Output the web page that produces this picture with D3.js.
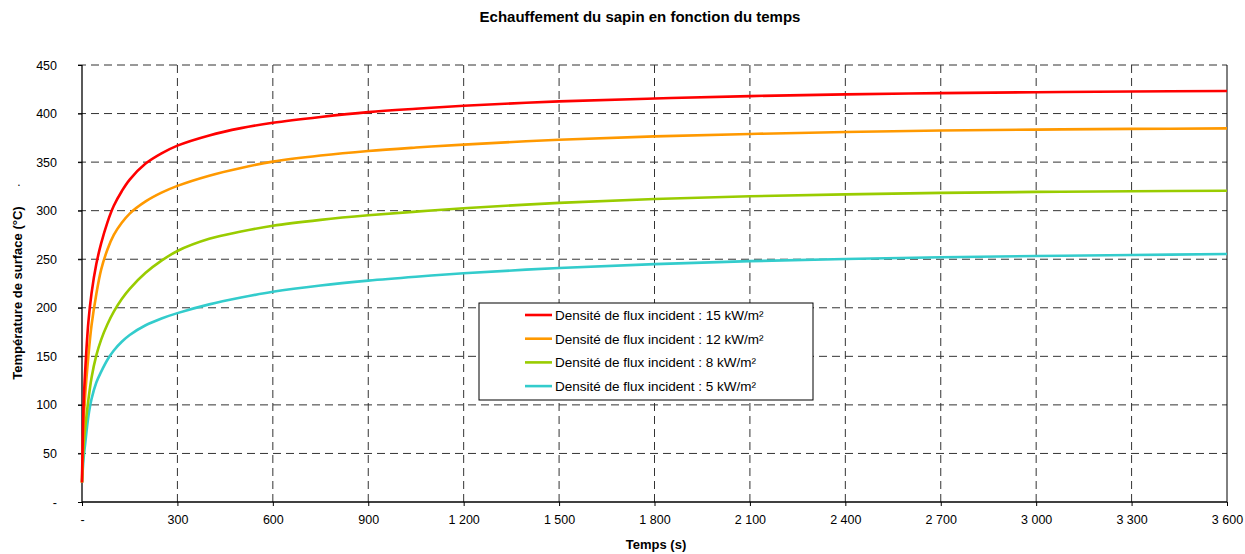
<!DOCTYPE html>
<html><head><meta charset="utf-8">
<script src="https://cdn.jsdelivr.net/npm/d3@7/dist/d3.min.js"></script>
<style>body{margin:0;background:#fff}svg{display:block}text{font-family:"Liberation Sans",Arial,sans-serif;fill:#000}</style>
</head><body><svg id="c" width="1245" height="554"></svg>
<script>
const times    = [0,5,10,20,30,45,60,80,100,125,150,200,250,300,400,500,600,750,900,1050,1200,1500,1800,2100,2400,2700,3000,3300,3600];
const red15    = [20,100,135,185,215,245,266,288,305,320,332,348.5,359,367,377.5,385,390.5,396.5,401.5,405,408,412.5,415.5,418,419.8,421,422,422.7,423.2];
const orange12 = [20,80,110,150,182,214,239,260,275,287.5,297,309.5,318.5,325.5,336,344,350.5,356.8,361.5,365,368,373,376.5,379,381,382.5,383.5,384.2,384.7];
const green8   = [20,58,76,105,128,151,167,183,196,209,219.5,236,248.5,258.5,271,278.5,284.5,290.5,295.2,299,302.5,308,312,314.8,316.8,318.3,319.3,320,320.5];
const cyan5    = [20,45,60,88,106,123,134,146.5,156,165,172,182,189,194.5,203.5,210.5,216.5,223,228,232,235.5,241,245,248,250.3,252,253.3,254.4,255.3];
const seriesNames = ["Densité de flux incident : 15 kW/m²","Densité de flux incident : 12 kW/m²","Densité de flux incident : 8 kW/m²","Densité de flux incident : 5 kW/m²"];
const seriesColors = ["#ff0000","#ff9900","#99cc00","#33cccc"];
const xTicks = [0,300,600,900,1200,1500,1800,2100,2400,2700,3000,3300,3600];
const xTickLabels = ["-","300","600","900","1 200","1 500","1 800","2 100","2 400","2 700","3 000","3 300","3 600"];
const yTicks = [0,50,100,150,200,250,300,350,400,450];
const yTickLabels = ["-","50","100","150","200","250","300","350","400","450"];

const svg = d3.select("#c");
const L=82,R=1227,T=65,B=502;
const x = d3.scaleLinear().domain([0,3600]).range([L,R]);
const y = d3.scaleLinear().domain([0,450]).range([B,T]);

// grid
const g = svg.append("g");
g.selectAll(".hg").data(yTicks.slice(1)).enter().append("line")
 .attr("x1",L-4).attr("x2",R).attr("y1",d=>y(d)).attr("y2",d=>y(d))
 .attr("stroke","#333").attr("stroke-width",1).attr("stroke-dasharray","8,5");
g.selectAll(".vg").data(xTicks.slice(1,-1)).enter().append("line")
 .attr("x1",d=>x(d)).attr("x2",d=>x(d)).attr("y1",T).attr("y2",B+4)
 .attr("stroke","#333").attr("stroke-width",1).attr("stroke-dasharray","8,5");
svg.append("line").attr("x1",R).attr("x2",R).attr("y1",T).attr("y2",B).attr("stroke","#000");

// axes
const xAxis = d3.axisBottom(x).tickValues(xTicks).tickFormat((d,i)=>xTickLabels[i]).tickSize(4);
const yAxis = d3.axisLeft(y).tickValues(yTicks).tickFormat((d,i)=>yTickLabels[i]).tickSize(4);
const xa = svg.append("g").attr("transform",`translate(0,${B})`).call(xAxis);
const ya = svg.append("g").attr("transform",`translate(${L},0)`).call(yAxis);
[xa,ya].forEach(a=>{a.select(".domain").attr("stroke","#000").attr("stroke-width",1.3);
 a.selectAll("text").style("font-family","'Liberation Sans',Arial,sans-serif").style("font-size","12.5px").attr("fill","#000");});
ya.select(".domain").attr("d",`M0,${T}V${B}`);
xa.select(".domain").attr("d",`M${L},0H${R}`);
xa.selectAll(".tick text").attr("y",13);
ya.selectAll(".tick text").attr("x",-25);

// lines
const series=[red15,orange12,green8,cyan5];
const line = d3.line().x((d,i)=>x(times[i])).y(d=>y(d)).curve(d3.curveCatmullRom.alpha(0.5));
[3,2,1,0].forEach(i=>{
 svg.append("path").datum(series[i]).attr("d",line).attr("fill","none").attr("stroke",seriesColors[i]).attr("stroke-width",2.6);
});

// legend
const lg = svg.append("g");
lg.append("rect").attr("x",479).attr("y",303).attr("width",334).attr("height",97).attr("fill","#fff").attr("stroke","#000").attr("stroke-width",1);
seriesNames.forEach((n,i)=>{
 const yy=315+i*23.7;
 lg.append("line").attr("x1",525).attr("x2",552).attr("y1",yy).attr("y2",yy).attr("stroke",seriesColors[i]).attr("stroke-width",2.6);
 lg.append("text").attr("x",555).attr("y",yy+5).style("font-size","13.5px").text(n);
});

// titles
svg.append("text").attr("x",640).attr("y",22).attr("text-anchor","middle").style("font-size","15px").style("font-weight","bold").text("Echauffement du sapin en fonction du temps");
svg.append("text").attr("x",656).attr("y",549).attr("text-anchor","middle").style("font-size","13px").style("font-weight","bold").text("Temps (s)");
svg.append("text").attr("transform","translate(22,293) rotate(-90)").attr("text-anchor","middle").style("font-size","13px").style("font-weight","bold").text("Température de surface (°C)");
svg.append("text").attr("x",19).attr("y",186).attr("text-anchor","middle").style("font-size","12px").text(".");
</script></body></html>
